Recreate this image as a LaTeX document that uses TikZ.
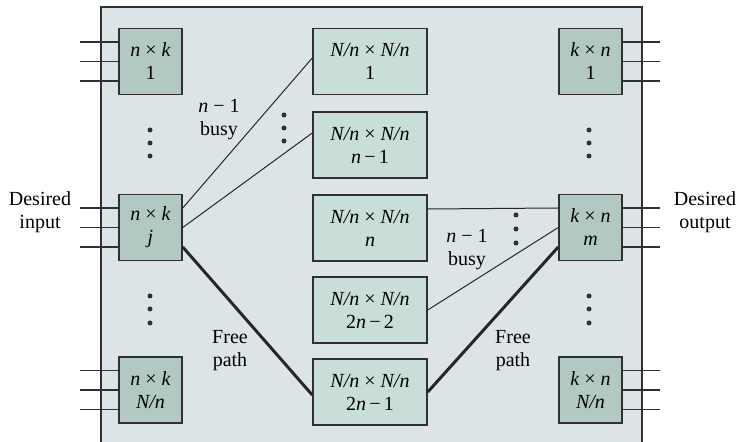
\documentclass[tikz,border=0pt]{standalone}
\usepackage{fontspec}
\setmainfont{Liberation Serif}
\definecolor{frameblue}{HTML}{DDE4E7}
\definecolor{sidegreen}{HTML}{B1C9C2}
\definecolor{midgreen}{HTML}{C9DDD9}
\definecolor{edgegray}{HTML}{303030}
\newcommand{\ital}[1]{\textit{#1}}

\begin{document}
\begin{tikzpicture}[x=0.5pt, y=-0.5pt,
  every node/.style={font=\fontsize{10}{11.5}\selectfont, align=center, inner sep=0pt},
  sidebox/.style={draw=edgegray, line width=0.75pt, fill=sidegreen, minimum width=31.5pt, minimum height=33pt},
  midbox/.style={draw=edgegray, line width=0.75pt, fill=midgreen, minimum width=57pt, minimum height=33pt},
  busyline/.style={edgegray!80!black, line width=0.5pt},
  freeline/.style={edgegray!80!black, line width=1.5pt},
  stub/.style={edgegray, line width=0.6pt}]
  \useasboundingbox (0,0) rectangle (739,442);
  \clip (0,0) rectangle (739,442);
  % Cadre du commutateur
  \draw[edgegray, line width=0.6pt, fill=frameblue] (101,7) rectangle (642,470);
  % Etage d'entree
  \node[sidebox] (inA) at (150.5,61.5) {\ital{n} × \ital{k}\\1};
  \node[sidebox] (inJ) at (150.5,227.5) {\ital{n} × \ital{k}\\\ital{j}};
  \node[sidebox] (inN) at (150.5,390) {\ital{n} × \ital{k}\\\ital{N/n}};
  % Etage central
  \node[midbox] (midA) at (370,61.5) {\ital{N/n} × \ital{N/n}\\1};
  \node[midbox] (midB) at (370,145) {\ital{N/n} × \ital{N/n}\\\ital{n}\,−\,1};
  \node[midbox] (midC) at (370,228) {\ital{N/n} × \ital{N/n}\\\ital{n}};
  \node[midbox] (midD) at (370,310) {\ital{N/n} × \ital{N/n}\\2\ital{n}\,−\,2};
  \node[midbox] (midE) at (370,392) {\ital{N/n} × \ital{N/n}\\2\ital{n}\,−\,1};
  % Etage de sortie
  \node[sidebox] (outA) at (590.5,61.5) {\ital{k} × \ital{n}\\1};
  \node[sidebox] (outM) at (590.5,227.5) {\ital{k} × \ital{n}\\\ital{m}};
  \node[sidebox] (outN) at (590.5,390) {\ital{k} × \ital{n}\\\ital{N/n}};
  % Lignes d'entree et de sortie
  \coordinate (stubL) at (80,0);
  \coordinate (stubR) at (660,0);
  \foreach \b in {inA,inJ,inN}
    \foreach \o in {9.75pt,0pt,-9.75pt}
      \draw[stub] ([yshift=\o]\b.west) -- ([yshift=\o]\b.west -| stubL);
  \foreach \b in {outA,outM,outN}
    \foreach \o in {9.75pt,0pt,-9.75pt}
      \draw[stub] ([yshift=\o]\b.east) -- ([yshift=\o]\b.east -| stubR);
  % Chemins occupes
  \draw[busyline] ([yshift=9.75pt]inJ.east) -- ([yshift=1.75pt]midA.west);
  \draw[busyline] (inJ.east) -- ([yshift=6pt]midB.west);
  \draw[busyline] ([yshift=9.5pt]midC.east) -- ([yshift=9.75pt]outM.west);
  \draw[busyline] (midD.east) -- (outM.west);
  % Chemin libre
  \draw[freeline] ([yshift=-9.75pt]inJ.east) -- ([yshift=-1.5pt]midE.west);
  \draw[freeline] (midE.east) -- ([yshift=-9.75pt]outM.west);
  % Points de suspension
  \foreach \x/\y in {150/130,150/143,150/156,150/296,150/309,150/323,
                     589/130,589/143,589/156,589/296,589/309,589/323,
                     284/115,284/128,284/141,516/215,516/229,516/243}
    \fill[edgegray] (\x,\y) circle[radius=1.25pt];
  % Etiquettes
  \node (busyL) at (219,120) {\ital{n} − 1\\busy};
  \node (busyR) at (467,250) {\ital{n} − 1\\busy};
  \node (freeL) at (230,351) {Free\\path};
  \node (freeR) at (513,351) {Free\\path};
  \node (desIn) at (40,212) {Desired\\input};
  \node (desOut) at (705,212) {Desired\\output};
\end{tikzpicture}
\end{document}
